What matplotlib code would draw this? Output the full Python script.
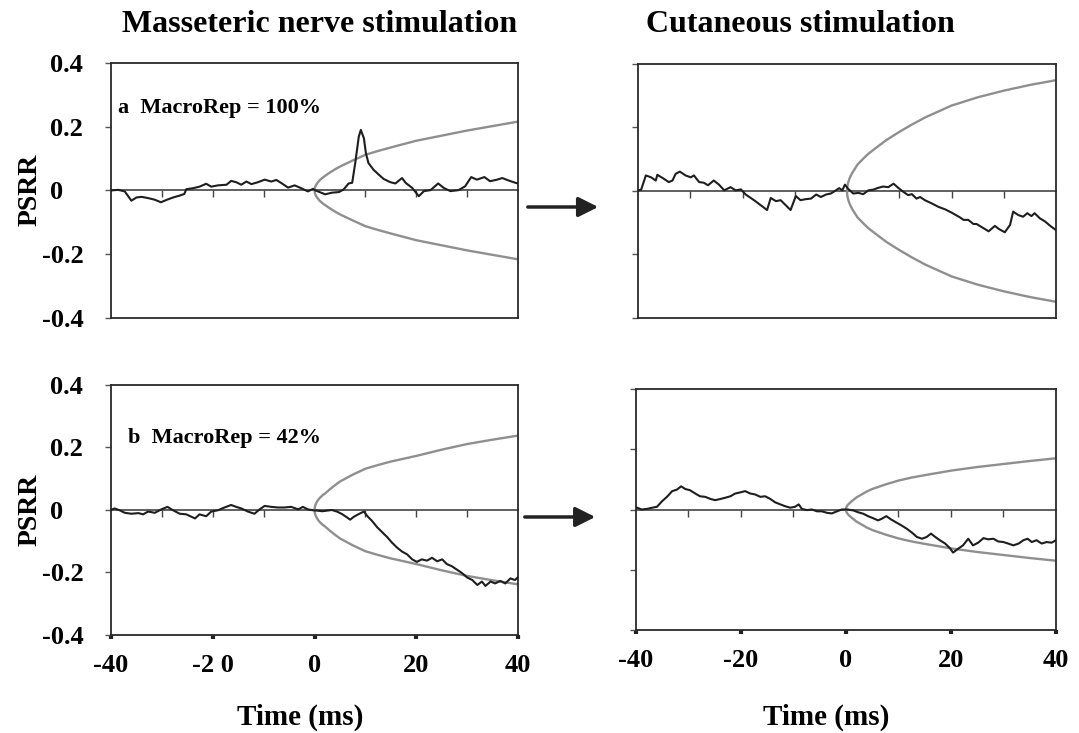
import numpy as np
import matplotlib
matplotlib.use('Agg')
import matplotlib.pyplot as plt

plt.rcParams['font.family'] = ['Liberation Serif', 'DejaVu Serif']
plt.rcParams['font.weight'] = 'bold'

# masseteric nerve, MacroRep = 100%
tl_time = [-40, -38.6, -37.3, -36, -35, -34, -32.7, -31.4, -30.2, -29, -27.8, -26.5, -25.6, -25.2,
           -23.9, -22.6, -21.3, -20.3, -19, -17.3, -16.4, -15.4, -14.4, -13.4, -12.4, -11.1, -9.8,
           -8.5, -7.5, -6.5, -5.2, -3.9, -2.6, -1.3, -0.3, 0.2, 2.1, 3.4, 4.8, 5.7, 6.7, 7.4, 8.0,
           8.7, 9.1, 9.7, 10.1, 10.6, 11.6, 12.6, 13.6, 14.9, 15.9, 17.2, 17.9, 19.2, 20.5, 21.5,
           22.8, 24.3, 25.4, 26.7, 28.3, 29.6, 30.8, 31.9, 33.4, 34.5, 35.9, 36.9, 38.2, 39.5, 40]
tl_psrr = [0, 0.002, -0.003, -0.032, -0.022, -0.02, -0.024, -0.029, -0.037, -0.029, -0.022, -0.016,
           -0.011, 0.004, 0.007, 0.012, 0.021, 0.012, 0.016, 0.018, 0.03, 0.026, 0.018, 0.028, 0.02,
           0.026, 0.034, 0.028, 0.033, 0.023, 0.009, 0.016, 0.007, -0.003, 0.005, 0, -0.012, -0.007,
           -0.005, 0.003, 0.022, 0.024, 0.086, 0.169, 0.19, 0.164, 0.117, 0.086, 0.065, 0.05, 0.036,
           0.026, 0.022, 0.039, 0.024, 0.008, -0.018, -0.002, 0.001, 0.022, 0.008, -0.002, 0.001,
           0.013, 0.042, 0.034, 0.042, 0.029, 0.034, 0.039, 0.031, 0.024, 0.022]

# cutaneous, top row
tr_time = [-40, -39.4, -38.5, -37.5, -36.6, -36.3, -35.3, -34.1, -33.4, -32.8, -32, -30.9, -29.9,
           -29.3, -28.3, -27.4, -26.6, -25.5, -24.5, -23.5, -22.3, -21.3, -20.3, -19.4, -17.8, -16.5,
           -15.3, -14.6, -13.6, -12.7, -10.8, -9.8, -8.9, -8.0, -6.9, -5.9, -5.0, -4.0, -3.1, -2.4,
           -1.5, -0.9, -0.4, 0.2, 1.2, 2.2, 3.1, 4.1, 5.0, 6.0, 6.9, 7.9, 8.9, 9.8, 10.8, 11.7, 12.4,
           13.3, 14.0, 14.9, 16.2, 17.5, 18.8, 20.0, 21.6, 22.3, 23.2, 24.2, 24.8, 25.8, 27.1, 28.3,
           29.1, 30.2, 31.2, 31.8, 32.8, 33.7, 34.5, 35.3, 35.9, 36.9, 37.9, 38.9, 39.9]
tr_psrr = [0.002, 0.004, 0.049, 0.043, 0.033, 0.051, 0.041, 0.028, 0.033, 0.054, 0.061, 0.049, 0.043,
           0.049, 0.028, 0.026, 0.018, 0.033, 0.02, 0.002, 0.012, 0.002, 0.005, -0.011, -0.029,
           -0.045, -0.06, -0.022, -0.032, -0.029, -0.06, -0.016, -0.029, -0.026, -0.024, -0.011,
           -0.019, -0.011, -0.008, -0.001, 0.009, 0.002, 0.02, 0.007, -0.008, -0.006, -0.01, 0.002,
           0.004, 0.01, 0.014, 0.012, 0.023, 0.01, -0.003, -0.013, -0.01, -0.024, -0.019, -0.029,
           -0.039, -0.05, -0.058, -0.068, -0.083, -0.091, -0.091, -0.104, -0.104, -0.114, -0.127,
           -0.11, -0.12, -0.13, -0.107, -0.065, -0.076, -0.081, -0.07, -0.079, -0.07, -0.086, -0.096,
           -0.11, -0.122]

# masseteric nerve, MacroRep = 42%
bl_time = [-40, -39.3, -38.3, -37.3, -36, -34.6, -33.7, -32.7, -31.4, -30.1, -28.9, -27.8, -26.5,
           -25.2, -23.5, -22.6, -21.3, -20.3, -19, -17.7, -16.4, -15.4, -14.4, -13.1, -11.8, -10.8,
           -9.8, -8.5, -7.2, -5.9, -4.6, -3.2, -2.3, -1.3, -0.3, 0.5, 1.5, 2.5, 3.4, 4.4, 5.4, 6.4,
           7.0, 7.7, 8.7, 9.7, 10.4, 11.3, 12.3, 13.3, 14.3, 15.2, 16.2, 17.2, 18.2, 19.2, 20.1, 21.1,
           22.1, 23.1, 24.1, 25.1, 26.0, 27.0, 28.0, 29.0, 30.0, 31.0, 32.0, 32.9, 33.6, 34.6, 35.5,
           36.5, 37.5, 38.5, 39.4, 40]
bl_psrr = [0, 0.005, -0.001, -0.009, -0.012, -0.01, -0.014, -0.005, -0.009, 0.002, 0.01, -0.001,
           -0.012, -0.014, -0.027, -0.014, -0.02, -0.005, -0.001, 0.008, 0.016, 0.01, 0.005, -0.005,
           -0.012, 0.002, 0.013, 0.01, 0.008, 0.008, 0.01, 0.002, 0.01, 0.002, -0.001, -0.002,
           -0.004, -0.002, 0, -0.005, -0.013, -0.024, -0.031, -0.022, -0.013, -0.005, -0.02, -0.035,
           -0.055, -0.071, -0.087, -0.104, -0.12, -0.133, -0.142, -0.158, -0.166, -0.158, -0.162,
           -0.153, -0.164, -0.158, -0.173, -0.18, -0.191, -0.202, -0.216, -0.224, -0.24, -0.229,
           -0.243, -0.229, -0.235, -0.227, -0.235, -0.219, -0.224, -0.215]

# cutaneous, bottom row
br_time = [-39.8, -38.9, -37.9, -36.9, -36.0, -35.0, -34.1, -33.1, -32.2, -31.4, -30.6, -29.7,
           -28.7, -27.8, -26.8, -25.8, -24.9, -23.9, -23.0, -22.0, -21.1, -20.1, -19.2, -18.2, -17.3,
           -16.3, -15.4, -14.4, -13.5, -12.5, -11.6, -10.6, -9.7, -9.0, -8.4, -7.4, -6.5, -5.5, -4.6,
           -3.6, -2.7, -1.7, -0.8, 0.3, 1.4, 2.3, 3.3, 4.2, 5.2, 6.1, 6.8, 7.7, 8.6, 9.7, 10.6, 11.6,
           12.6, 13.5, 14.5, 15.4, 16.2, 17.0, 17.9, 18.9, 19.8, 20.4, 21.4, 22.3, 23.3, 24.2, 25.2,
           26.2, 27.1, 28.1, 29.0, 30.0, 30.9, 31.9, 32.9, 33.8, 34.6, 35.4, 36.3, 37.3, 38.2, 39.2, 40]
br_psrr = [0.006, 0, 0.002, 0.006, 0.009, 0.028, 0.042, 0.061, 0.066, 0.077, 0.068, 0.064, 0.053,
           0.044, 0.042, 0.035, 0.031, 0.035, 0.039, 0.044, 0.053, 0.057, 0.061, 0.053, 0.05, 0.042,
           0.044, 0.035, 0.024, 0.017, 0.011, 0.006, 0.009, 0.017, 0.002, -0.002, 0, -0.006, -0.006,
           -0.011, -0.013, -0.006, 0, 0, -0.003, -0.009, -0.014, -0.022, -0.029, -0.036, -0.031,
           -0.022, -0.033, -0.044, -0.053, -0.064, -0.077, -0.091, -0.097, -0.091, -0.08, -0.091,
           -0.102, -0.113, -0.128, -0.143, -0.13, -0.119, -0.097, -0.119, -0.11, -0.095, -0.099,
           -0.097, -0.106, -0.108, -0.113, -0.119, -0.113, -0.102, -0.097, -0.108, -0.102, -0.113,
           -0.108, -0.11, -0.102]

# gray confidence envelope (upper arm, lower arm is mirrored)
env_time = [0, 0.05, 0.15, 0.3, 0.5, 0.75, 1, 1.5, 2, 3, 4, 5, 7.5, 10, 12.5, 15, 20, 25, 30, 35, 40]
tl_env = [0, 0.007, 0.012, 0.017, 0.022, 0.027, 0.032, 0.039, 0.045, 0.056, 0.066, 0.075, 0.094,
          0.112, 0.124, 0.135, 0.156, 0.172, 0.188, 0.202, 0.216]
tr_env = [0, 0.013, 0.022, 0.031, 0.040, 0.049, 0.057, 0.07, 0.083, 0.10, 0.116, 0.129, 0.16,
          0.186, 0.21, 0.232, 0.269, 0.295, 0.316, 0.334, 0.349]
bl_env = [0, 0.008, 0.015, 0.021, 0.027, 0.033, 0.038, 0.046, 0.052, 0.066, 0.079, 0.091, 0.113,
          0.132, 0.144, 0.155, 0.173, 0.193, 0.211, 0.225, 0.238]
br_env = [0, 0.006, 0.01, 0.014, 0.018, 0.022, 0.026, 0.033, 0.04, 0.05, 0.06, 0.068, 0.083,
          0.096, 0.106, 0.114, 0.129, 0.141, 0.151, 0.161, 0.17]

y_ticks = [0.4, 0.2, 0, -0.2, -0.4]
# the lone zero is padded so it sits decimal-aligned like in the original
y_labels = ['0.4', '0.2', '0\u2008\u2007', '-0.2', '-0.4']
x_ticks = [-40, -20, 0, 20, 40]
bl_xlabels = ['-40', '-2 0', '0', '20', '40']
br_xlabels = ['-40', '-20', '0', '20', '40']
zero_ticks = [-30, -20, -10, 10, 20, 30]


def draw_panel(ax, time, psrr, env, ylabels=None, xlabels=None):
  t = np.array(env_time)
  e = np.array(env)
  ax.plot(np.concatenate([t[::-1], t]), np.concatenate([-e[::-1], e]),
          color='#8f8f8f', lw=1.7, zorder=2)
  ax.plot(time, psrr, color='#1e1e1e', lw=1.5, zorder=3)
  ax.set_xlim(-40, 40)
  ax.set_ylim(-0.4, 0.4)
  for s in ax.spines.values():
    s.set_color('#2a2a2a')
    s.set_linewidth(1.3)

  # zero line with small ticks every 10 ms
  zero = ax.secondary_xaxis(0.5)
  zero.set_xticks(zero_ticks)
  zero.set_xticklabels([])
  zero.tick_params(direction='in', length=5, width=1, colors='#444444')
  for s in zero.spines.values():
    s.set_color('#444444')
    s.set_linewidth(1.2)

  ax.set_yticks(y_ticks)
  ax.tick_params(axis='y', direction='out', length=4, width=1, colors='#555555')
  if ylabels:
    ax.set_yticklabels(ylabels, fontsize=19, fontweight='bold')
    ax.tick_params(axis='y', pad=16, labelcolor='black')
  else:
    ax.set_yticklabels([])

  if xlabels:
    ax.set_xticks(x_ticks)
    ax.set_xticklabels(xlabels, fontsize=19, fontweight='bold')
    ax.tick_params(axis='x', direction='out', length=3, width=3, colors='#222222',
                   labelcolor='black', pad=11)
  else:
    ax.set_xticks([])


def arrow(ax, start, end):
  ax.annotate('', xy=end, xytext=start, xycoords='figure fraction',
              textcoords='figure fraction', annotation_clip=False,
              arrowprops=dict(arrowstyle='-|>', lw=2.5, color='#222222', mutation_scale=30))


fig = plt.figure(figsize=(10.79, 7.33), dpi=100)

ax_tl = fig.add_axes([0.1029, 0.5662, 0.3772, 0.3479])
ax_tr = fig.add_axes([0.5913, 0.5662, 0.3874, 0.3465])
ax_bl = fig.add_axes([0.1029, 0.1337, 0.3772, 0.3411])
ax_br = fig.add_axes([0.5894, 0.1405, 0.3892, 0.3288])

draw_panel(ax_tl, tl_time, tl_psrr, tl_env, ylabels=y_labels)
draw_panel(ax_tr, tr_time, tr_psrr, tr_env)
draw_panel(ax_bl, bl_time, bl_psrr, bl_env, ylabels=y_labels, xlabels=bl_xlabels)
draw_panel(ax_br, br_time, br_psrr, br_env, xlabels=br_xlabels)

ax_tl.text(0.017, 0.8235, 'a  MacroRep = 100%', transform=ax_tl.transAxes,
           fontsize=16, fontweight='bold', va='center', ha='left')
ax_bl.text(0.042, 0.788, 'b  MacroRep = 42%', transform=ax_bl.transAxes,
           fontsize=16, fontweight='bold', va='center', ha='left')

fig.text(0.2966, 0.967, 'Masseteric nerve stimulation', fontsize=23, fontweight='bold',
         ha='center', va='center')
fig.text(0.742, 0.967, 'Cutaneous stimulation', fontsize=23, fontweight='bold',
         ha='center', va='center')

fig.text(0.028, 0.741, 'PSRR', rotation=90, fontsize=20, fontweight='bold', ha='center', va='center')
fig.text(0.028, 0.304, 'PSRR', rotation=90, fontsize=20, fontweight='bold', ha='center', va='center')

fig.text(0.278, 0.022, 'Time (ms)', fontsize=21, fontweight='bold', ha='center', va='center')
fig.text(0.7655, 0.022, 'Time (ms)', fontsize=21, fontweight='bold', ha='center', va='center')

arrow(ax_tl, (0.4866, 0.7176), (0.557, 0.7176))
arrow(ax_bl, (0.4838, 0.2947), (0.5543, 0.2947))

fig.savefig('out.png', dpi=100)
